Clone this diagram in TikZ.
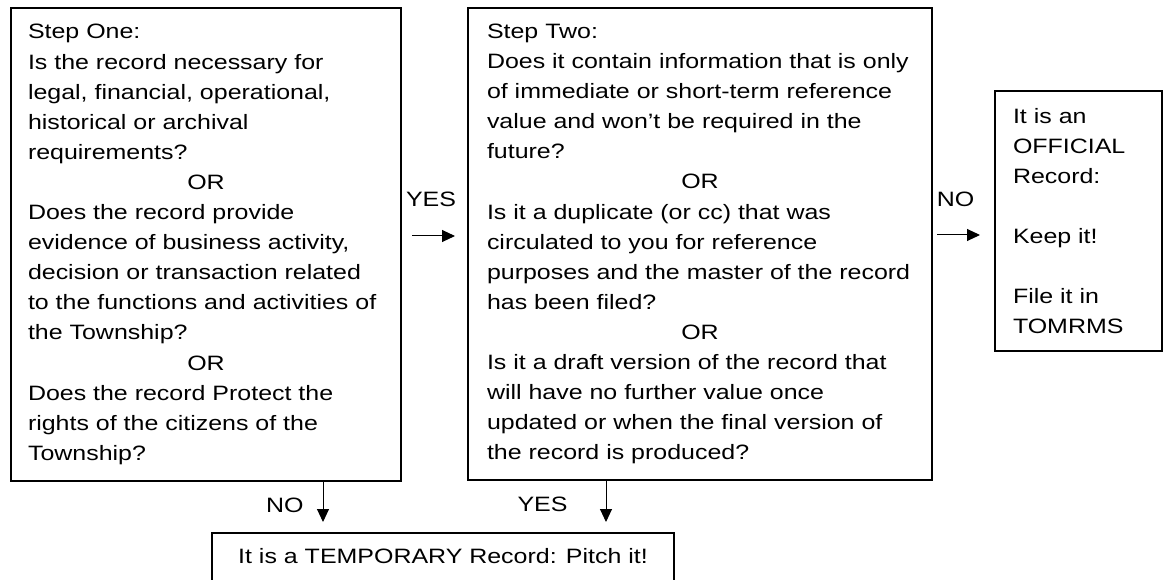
\documentclass[tikz,border=0pt]{standalone}
\usepackage{fontspec}
\setmainfont{Liberation Sans}[FakeStretch=1.2]
\usetikzlibrary{arrows.meta,positioning}

\newcommand{\orline}{\leavevmode\hbox to\hsize{\hfil OR\hfil}}

\begin{document}
\begin{tikzpicture}[x=1pt, y=-1pt,
    every node/.style={font=\fontsize{20.8pt}{30.1pt}\selectfont},
    box/.style={draw, line width=1.8pt, outer sep=0pt, align=left, anchor=north west},
    flow/.style={-{Triangle[length=13pt,width=12pt]}, line width=1pt},
    lbl/.style={inner sep=0pt}]
    \clip (0,0) rectangle (1165,580);

    % Step one
    \node[box, minimum width=390pt, minimum height=473pt, inner xsep=17pt, text width=356pt] (one) at (11,8) {Step One:\\
        Is the record necessary for\\
        legal, financial, operational,\\
        historical or archival\\
        requirements?\\
        \orline\\
        Does the record provide\\
        evidence of business activity,\\
        decision or transaction related\\
        to the functions and activities of\\
        the Township?\\
        \orline\\
        Does the record Protect the\\
        rights of the citizens of the\\
        Township?};

    % Step two
    \node[box, minimum width=464pt, minimum height=472pt, inner xsep=19pt, text width=426pt] (two) at (468,8) {Step Two:\\
        Does it contain information that is only\\
        of immediate or short-term reference\\
        value and won’t be required in the\\
        future?\\
        \orline\\
        Is it a duplicate (or cc) that was\\
        circulated to you for reference\\
        purposes and the master of the record\\
        has been filed?\\
        \orline\\
        Is it a draft version of the record that\\
        will have no further value once\\
        updated or when the final version of\\
        the record is produced?};

    % Official record
    \node[box, minimum width=167pt, minimum height=260pt, inner xsep=18pt, text width=131pt] (three) at (995,91) {It is an\\
        OFFICIAL\\
        Record:\\[30.1pt]
        Keep it!\\[30.1pt]
        File it in\\
        TOMRMS};

    % Temporary record
    \node[box, anchor=north, align=center, inner ysep=0pt, text height=30pt, text depth=30pt, minimum width=462pt] (four) at (443,533) {It is a TEMPORARY Record: Pitch it!};

    % Arrows between boxes
    \coordinate (yesright) at ([yshift=8.5pt]one.east);
    \coordinate (noright) at ([yshift=9pt]two.east);
    \draw[flow, shorten <=11pt, shorten >=13pt] (yesright) -- (yesright -| two.west)
        node[lbl, midway, above=29pt, xshift=-3.5pt] {YES};
    \draw[flow, shorten <=5pt, shorten >=15pt] (noright) -- (noright -| three.west)
        node[lbl, midway, above=28pt, xshift=-8pt] {NO};

    % Arrows down to the temporary record
    \coordinate (noout) at ([xshift=117pt]one.south);
    \coordinate (yesout) at ([xshift=-94pt]two.south);
    \draw[flow, shorten >=11pt] (noout) -- (noout |- four.north)
        node[lbl, midway, left=19pt, yshift=2pt] {NO};
    \draw[flow, shorten >=11pt] (yesout) -- (yesout |- four.north)
        node[lbl, midway, left=38pt, yshift=2pt] {YES};
\end{tikzpicture}
\end{document}
